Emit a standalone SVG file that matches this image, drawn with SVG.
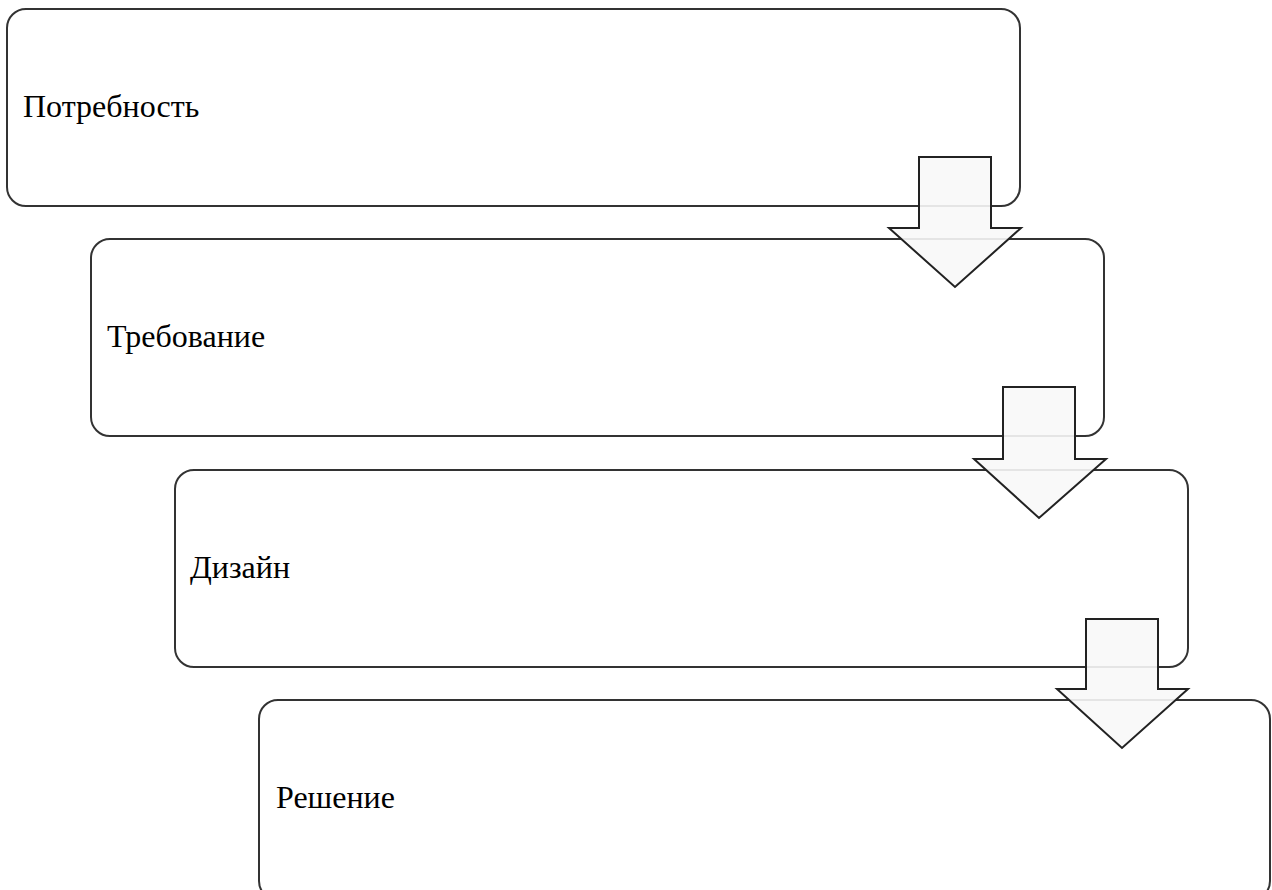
<svg xmlns="http://www.w3.org/2000/svg" width="1272" height="890" viewBox="0 0 1272 890">
<style>
.box{fill:#ffffff;stroke:#333333;stroke-width:2}
.lbl{font-family:'Liberation Serif',Tinos,'Times New Roman','DejaVu Serif',serif;font-size:32px;fill:#000000}
.arr{fill:#f8f8f8;fill-opacity:0.9;stroke:#222222;stroke-width:2;stroke-linejoin:miter}
</style>
<rect width="1272" height="890" fill="#ffffff"/>
<g id="node1"><rect class="box" x="7" y="9" width="1013" height="197" rx="19"/><text class="lbl" x="23" y="117">Потребность</text></g>
<g id="node2"><rect class="box" x="91" y="239" width="1013" height="197" rx="19"/><text class="lbl" x="107" y="347">Требование</text></g>
<g id="node3"><rect class="box" x="175" y="470" width="1013" height="197" rx="19"/><text class="lbl" x="190" y="578">Дизайн</text></g>
<g id="node4"><rect class="box" x="259" y="700" width="1011" height="200" rx="19"/><text class="lbl" x="276" y="808">Решение</text></g>
<g id="connectors">
<polygon class="arr" points="919,157 991,157 991,228 1021,228 955,287 889,228 919,228"/>
<polygon class="arr" points="1003,387 1075,387 1075,459 1106,459 1039,518 974,459 1003,459"/>
<polygon class="arr" points="1086,619 1158,619 1158,689 1188,689 1122,748 1057,689 1086,689"/>
</g>
</svg>
